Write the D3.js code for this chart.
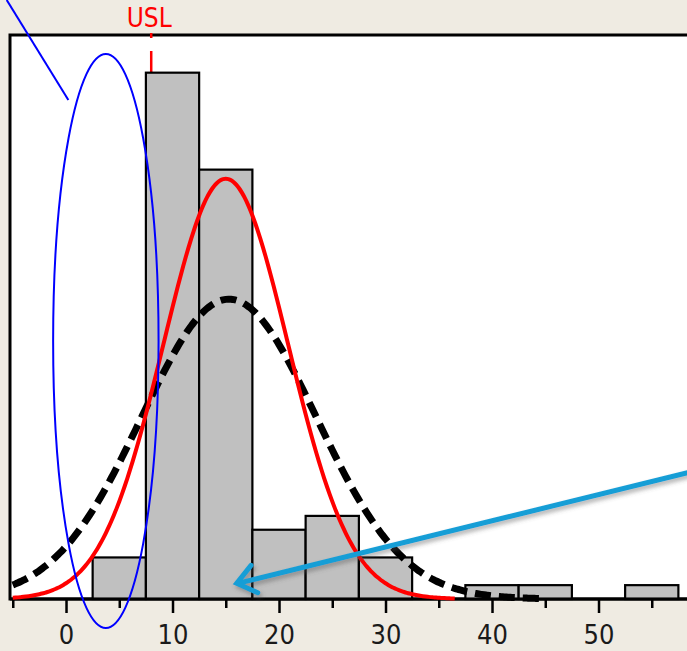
<!DOCTYPE html>
<html>
<head>
<meta charset="utf-8">
<script src="https://cdn.jsdelivr.net/npm/d3@7"></script>
<style>
  html, body { margin: 0; padding: 0; background: #efebe2; }
  svg { display: block; }
</style>
</head>
<body>
<script>
// histogram data, bin width 5
var binStarts = [2.5, 7.5, 12.5, 17.5, 22.5, 27.5, 32.5, 37.5, 42.5, 47.5, 52.5];
var counts    = [3, 38, 31, 5, 6, 3, 0, 1, 1, 0, 1];
var binWidth  = 5;

// fitted normal curves: [red solid, black dashed]
var fitNames = ["normal", "normal wide"];
var fitMean  = [15.0, 15.3];
var fitSd    = [5.85, 8.2];
var fitFrom  = [-5, -5];
var fitTo    = [36.7, 44.7];

var majorTicks = [0, 10, 20, 30, 40, 50];
var minorTicks = [-5, 5, 15, 25, 35, 45, 55];
var usl = 8;

var w = 687, h = 651;

var svg = d3.select("body").append("svg")
    .attr("width", w)
    .attr("height", h);

var defs = svg.append("defs");
var shadow = defs.append("filter").attr("id", "shadow")
    .attr("x", "-10%").attr("y", "-50%").attr("width", "120%").attr("height", "200%");
shadow.append("feDropShadow")
    .attr("dx", 2).attr("dy", 3).attr("stdDeviation", 2)
    .attr("flood-color", "#555").attr("flood-opacity", 0.45);

// plot frame runs off the right edge, like the reference
var plotLeft = 10, plotTop = 35, plotRight = 700, plotBottom = 599;

var x = d3.scaleLinear().domain([-5.26, 59.53]).range([plotLeft, plotRight]);
var y = d3.scaleLinear().domain([0, 40.72]).range([plotBottom, plotTop]);

svg.append("rect")
    .attr("x", plotLeft).attr("y", plotTop)
    .attr("width", plotRight - plotLeft).attr("height", plotBottom - plotTop)
    .attr("fill", "#fff")
    .attr("stroke", "#000").attr("stroke-width", 3);

// USL line sits behind the bars
svg.append("line")
    .attr("x1", x(usl)).attr("x2", x(usl))
    .attr("y1", plotTop - 2).attr("y2", plotBottom)
    .attr("stroke", "#ff0000").attr("stroke-width", 2.5)
    .attr("stroke-dasharray", "5,13,40,13");

svg.append("text")
    .attr("x", x(usl) - 2).attr("y", 27)
    .attr("text-anchor", "middle")
    .attr("font-family", "DejaVu Sans Condensed, DejaVu Sans, sans-serif")
    .attr("font-size", "26px")
    .attr("fill", "#ff0000")
    .text("USL");

// bars
var bins = binStarts.map(function(b, i) { return {x0: b, x1: b + binWidth, n: counts[i]}; });
svg.append("g")
    .selectAll("rect")
    .data(bins.filter(function(d) { return d.n > 0; }))
    .enter()
    .append("rect")
    .attr("x", function(d) { return x(d.x0); })
    .attr("y", function(d) { return y(d.n); })
    .attr("width", function(d) { return x(d.x1) - x(d.x0); })
    .attr("height", function(d) { return y(0) - y(d.n); })
    .attr("fill", "#c0c0c0")
    .attr("stroke", "#000")
    .attr("stroke-width", 2.2);

// axis
var axis = svg.append("g").attr("transform", "translate(0," + plotBottom + ")");
axis.call(d3.axisBottom(x).tickValues(minorTicks).tickSize(9).tickSizeOuter(0).tickFormat(""));
var major = svg.append("g").attr("transform", "translate(0," + plotBottom + ")")
    .call(d3.axisBottom(x).tickValues(majorTicks).tickSize(14).tickSizeOuter(0).tickPadding(12));
svg.selectAll(".domain").remove();
axis.append("line")
    .attr("x1", plotLeft).attr("x2", w)
    .attr("stroke", "#000").attr("stroke-width", 3);
svg.selectAll(".tick line").attr("stroke", "#000").attr("stroke-width", 2.5);
major.selectAll(".tick text")
    .attr("font-family", "DejaVu Sans Condensed, DejaVu Sans, sans-serif")
    .attr("font-size", "27px")
    .attr("fill", "#1a1a1a");

// fitted normal curves scaled to the histogram
var total = d3.sum(counts);
function fitPoints(k) {
    var pts = [];
    var m = fitMean[k], s = fitSd[k];
    for (var v = fitFrom[k]; v <= fitTo[k] + 1e-9; v += 0.25) {
        var dens = total * binWidth / (s * Math.sqrt(2 * Math.PI)) * Math.exp(-(v - m) * (v - m) / (2 * s * s));
        pts.push([v, dens]);
    }
    return pts;
}
var line = d3.line()
    .x(function(d) { return x(d[0]); })
    .y(function(d) { return y(d[1]); })
    .curve(d3.curveBasis);

svg.append("path")
    .attr("d", line(fitPoints(1)))
    .attr("fill", "none")
    .attr("stroke", "#000")
    .attr("stroke-width", 7)
    .attr("stroke-dasharray", "16,8");

svg.append("path")
    .attr("d", line(fitPoints(0)))
    .attr("fill", "none")
    .attr("stroke", "#ff0000")
    .attr("stroke-width", 4);

// annotations: blue ellipse and pointer
svg.append("ellipse")
    .attr("cx", x(3.74)).attr("cy", y(18.63))
    .attr("rx", x(3.74 + 4.95) - x(3.74))
    .attr("ry", y(0) - y(20.72))
    .attr("fill", "none")
    .attr("stroke", "#0000ff").attr("stroke-width", 2);

svg.append("line")
    .attr("x1", x(-5.57)).attr("y1", y(43.25))
    .attr("x2", x(0.22)).attr("y2", y(36.03))
    .attr("stroke", "#0000ff").attr("stroke-width", 2);

// cyan arrow with open head
var tip = [x(16.03), y(1.13)], tail = [x(59.6), y(9.35)];
var ang = Math.atan2(tail[1] - tip[1], tail[0] - tip[0]);
var head = 23, spread = 0.66;
var arrow = svg.append("g").attr("filter", "url(#shadow)");
arrow.append("line")
    .attr("x1", tail[0]).attr("y1", tail[1])
    .attr("x2", tip[0] + 1).attr("y2", tip[1])
    .attr("stroke", "#189ed6").attr("stroke-width", 5);
arrow.append("path")
    .attr("d", "M" + (tip[0] + head * Math.cos(ang - spread)) + "," + (tip[1] + head * Math.sin(ang - spread)) +
               "L" + tip[0] + "," + tip[1] +
               "L" + (tip[0] + head * Math.cos(ang + spread)) + "," + (tip[1] + head * Math.sin(ang + spread)))
    .attr("fill", "none")
    .attr("stroke", "#189ed6").attr("stroke-width", 5)
    .attr("stroke-linecap", "round").attr("stroke-linejoin", "miter");
</script>
</body>
</html>
